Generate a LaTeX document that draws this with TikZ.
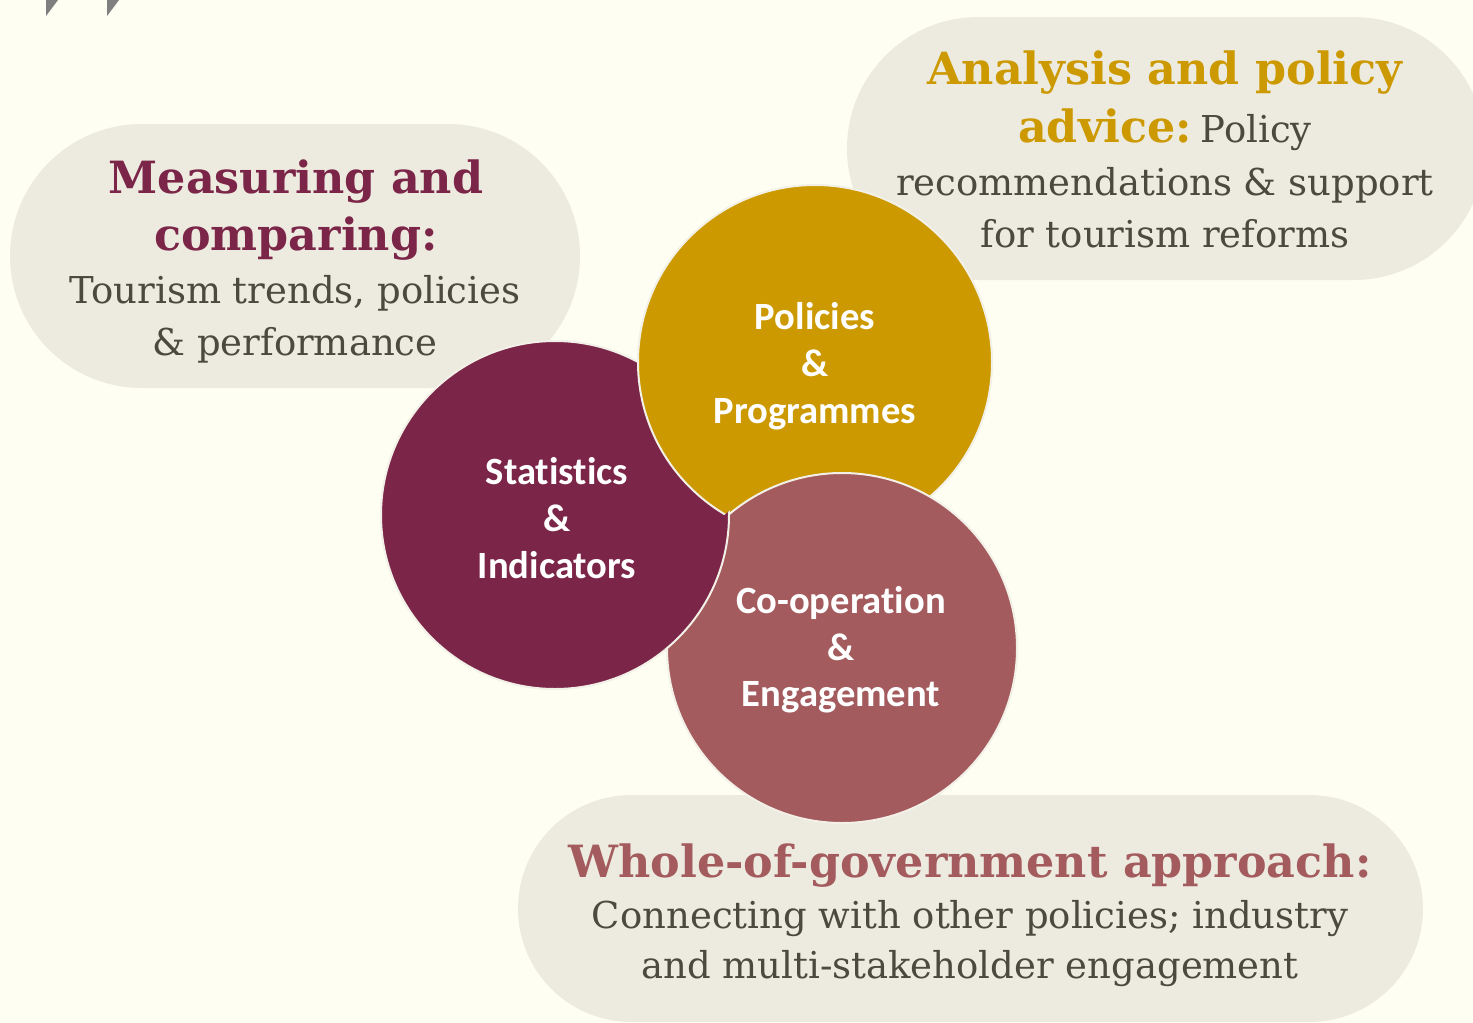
\documentclass[tikz,border=0pt]{standalone}
\usepackage{fontspec}
\setmainfont{DejaVu Serif}
\newfontfamily\circfont[RawFeature=-liga]{Carlito}
\definecolor{bg}{HTML}{FEFEF2}
\definecolor{pill}{HTML}{EDEBE0}
\definecolor{maroon}{HTML}{7B2548}
\definecolor{gold}{HTML}{CC9900}
\definecolor{rose}{HTML}{A35B5E}
\definecolor{bodygray}{HTML}{4A4A3E}
\definecolor{rimc}{HTML}{F3F1E7}
\definecolor{markgray}{HTML}{7F7F7F}
\tikzset{
  pillbox/.style={rectangle,fill=pill,draw=none,inner sep=0pt},
  bub/.style={circle,inner sep=0pt,minimum size=#1,draw=rimc,line width=1pt},
  head/.style={anchor=base,inner sep=0pt,font=\fontsize{22.2}{26}\selectfont\bfseries},
  bodyt/.style={anchor=base,inner sep=0pt,text=bodygray,font=\fontsize{18.5}{22}\selectfont},
  ctext/.style={anchor=base,inner sep=0pt,text=white,font=\circfont\fontsize{19.3}{23}\selectfont\bfseries},
}
\begin{document}
\begin{tikzpicture}[x=0.5pt,y=-0.5pt]
\useasboundingbox (0,0) rectangle (1473,1023);
\clip (0,0) rectangle (1473,1023);
\fill[bg] (0,0) rectangle (1473,1023);
% top-left marks
\fill[markgray] (46,0) -- (58,0) -- (46,16) -- cycle;
\fill[markgray] (107,0) -- (119,0) -- (107,16) -- cycle;
% pills
\node[pillbox,minimum width=285pt,minimum height=132pt,rounded corners=66pt] (p1) at (295,256) {};
\node[pillbox,minimum width=319pt,minimum height=131.5pt,rounded corners=65.75pt] (p2) at (1166,148.5) {};
\node[pillbox,minimum width=452.5pt,minimum height=113.5pt,rounded corners=56.75pt] (p3) at (970.5,908.5) {};
% pill texts
\node[head,text=maroon] (t1a) at (296,193) {Measuring and};
\node[head,text=maroon] (t1b) at (296,250) {comparing:};
\node[bodyt] (t1c) at (295,303) {Tourism trends, policies};
\node[bodyt] (t1d) at (295,355) {\& performance};
\node[head,text=gold] (t2a) at (1165,84) {Analysis and policy};
\node[anchor=base,inner sep=0pt] (t2b) at (1165,142) {{\fontsize{22.2}{26}\selectfont\bfseries\color{gold}advice:} {\fontsize{18.5}{22}\selectfont\color{bodygray}Policy}};
\node[bodyt] (t2c) at (1165,195) {recommendations \& support};
\node[bodyt] (t2d) at (1165,247) {for tourism reforms};
\node[head,text=rose] (t3a) at (970,877) {Whole-of-government approach:};
\node[bodyt] (t3b) at (970,928) {Connecting with other policies; industry};
\node[bodyt] (t3c) at (970,978) {and multi-stakeholder engagement};
% circles
\node[bub=174pt,fill=maroon] (cs) at (555,515) {};
\node[bub=177pt,fill=gold] (cp) at (815,362) {};
\node[bub=175pt,fill=rose] (cc) at (842,648) {};
\begin{scope}
  \clip (842,648) circle[radius=177.5];
  \node[bub=174pt,fill=maroon] (cs2) at (555,515) {};
\end{scope}
% circle texts
\node[ctext] (s1) at (557,484) {Statistics};
\node[ctext] (s2) at (557,531) {\&};
\node[ctext] (s3) at (557,578) {Indicators};
\node[ctext] (q1) at (815,329) {Policies};
\node[ctext] (q2) at (815,376) {\&};
\node[ctext] (q3) at (815,423) {Programmes};
\node[ctext] (c1) at (841,613) {Co-operation};
\node[ctext] (c2) at (841,660) {\&};
\node[ctext] (c3) at (841,706) {Engagement};
\end{tikzpicture}
\end{document}
